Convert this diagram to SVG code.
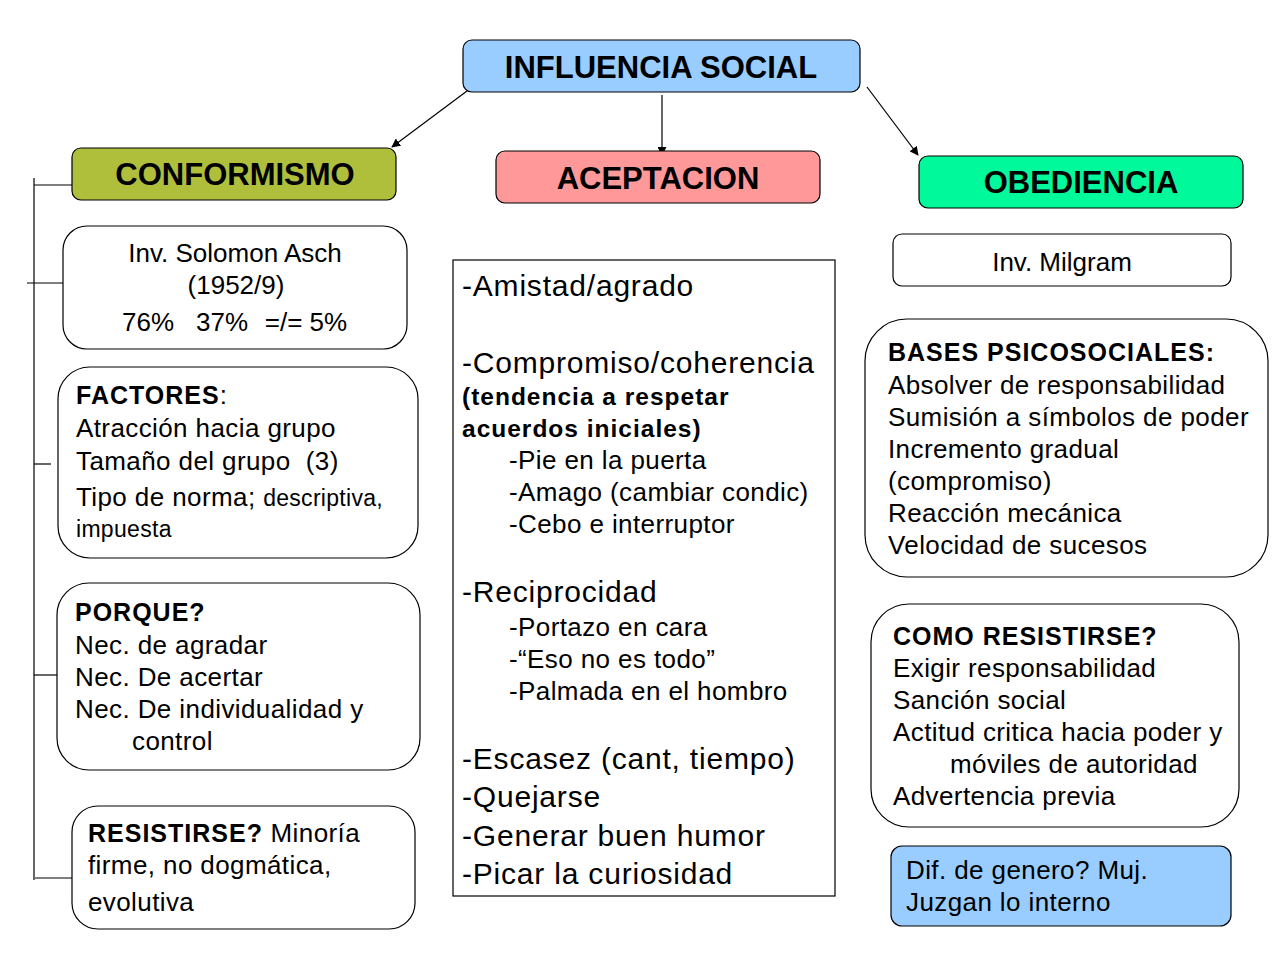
<svg xmlns="http://www.w3.org/2000/svg" width="1278" height="959" viewBox="0 0 1278 959">
<style>
text{font-family:"Liberation Sans",Arial,sans-serif;fill:#000}
.h{font-size:31px;font-weight:bold;text-anchor:middle}
.t{font-size:26px;letter-spacing:0.4px}
.tc{font-size:26px;text-anchor:middle}
.b{font-size:25px;font-weight:bold;letter-spacing:1px}
.m{font-size:30px;letter-spacing:0.8px}
.mb{font-size:24.5px;font-weight:bold;letter-spacing:1px}
.s{font-size:23px;letter-spacing:0.3px}
.box{fill:#fff;stroke:#000;stroke-width:1.2}
.con{stroke:#000;stroke-width:1.2;fill:none}
</style>
<defs>
<marker id="ar" viewBox="0 0 10 10" refX="9" refY="5" markerWidth="9" markerHeight="9" markerUnits="userSpaceOnUse" orient="auto">
<path d="M0,0 L10,5 L0,10 z" fill="#000"/>
</marker>
</defs>
<rect width="1278" height="959" fill="#fff"/>
<g id="connectors">
<line class="con" x1="471" y1="88" x2="392" y2="147" marker-end="url(#ar)"/>
<line class="con" x1="662" y1="95" x2="662" y2="155" marker-end="url(#ar)"/>
<line class="con" x1="867" y1="87" x2="918" y2="155" marker-end="url(#ar)"/>
<line class="con" x1="34" y1="178" x2="34" y2="880"/>
<line class="con" x1="34" y1="185" x2="72" y2="185"/>
<line class="con" x1="27" y1="283" x2="63" y2="283"/>
<line class="con" x1="34" y1="464" x2="51" y2="464"/>
<line class="con" x1="34" y1="675" x2="57" y2="675"/>
<line class="con" x1="35" y1="878" x2="75" y2="878"/>
</g>
<g id="influencia">
<rect x="463" y="40" width="397" height="52" rx="9" fill="#99CCFF" stroke="#000" stroke-width="1.2"/>
<text class="h" x="661" y="78">INFLUENCIA SOCIAL</text>
</g>
<g id="conformismo">
<rect x="72" y="148" width="324" height="52" rx="9" fill="#AFBF3C" stroke="#000" stroke-width="1.2"/>
<text class="h" x="235" y="185">CONFORMISMO</text>
</g>
<g id="aceptacion">
<rect x="496" y="151" width="324" height="52" rx="9" fill="#FF9999" stroke="#000" stroke-width="1.2"/>
<text class="h" x="658" y="189">ACEPTACION</text>
</g>
<g id="obediencia">
<rect x="919" y="156" width="324" height="52" rx="9" fill="#00F99A" stroke="#000" stroke-width="1.2"/>
<text class="h" x="1081" y="193">OBEDIENCIA</text>
</g>
<g id="asch">
<rect class="box" x="63" y="226" width="344" height="123" rx="24"/>
<text class="tc" x="235" y="262">Inv. Solomon Asch</text>
<text class="tc" x="236" y="294">(1952/9)</text>
<text class="tc" y="331"><tspan x="148">76%</tspan><tspan x="222">37%</tspan><tspan x="306">=/= 5%</tspan></text>
</g>
<g id="factores">
<rect class="box" x="58" y="367" width="360" height="191" rx="32"/>
<text x="76" y="404"><tspan class="b">FACTORES</tspan><tspan class="t">:</tspan></text>
<text class="t" x="76" y="437">Atracción hacia grupo</text>
<text class="t" x="76" y="470" xml:space="preserve">Tamaño del grupo  (3)</text>
<text x="76" y="506"><tspan class="t">Tipo de norma; </tspan><tspan class="s">descriptiva,</tspan></text>
<text class="s" x="76" y="537">impuesta</text>
</g>
<g id="porque">
<rect class="box" x="57" y="583" width="363" height="187" rx="32"/>
<text class="b" x="75" y="621">PORQUE?</text>
<text class="t" x="75" y="654">Nec. de agradar</text>
<text class="t" x="75" y="686">Nec. De acertar</text>
<text class="t" x="75" y="718">Nec. De individualidad y</text>
<text class="t" x="132" y="750">control</text>
</g>
<g id="resistirse">
<rect class="box" x="72" y="806" width="343" height="123" rx="26"/>
<text x="88" y="842"><tspan class="b">RESISTIRSE?</tspan><tspan class="t"> Minoría</tspan></text>
<text class="t" x="88" y="874">firme, no dogmática,</text>
<text class="t" x="88" y="911">evolutiva</text>
</g>
<g id="tecnicas">
<rect x="453" y="260" width="382" height="636" fill="#fff" stroke="#000" stroke-width="1.2"/>
<text class="m" x="462" y="296">-Amistad/agrado</text>
<text class="m" x="462" y="373">-Compromiso/coherencia</text>
<text class="mb" x="462" y="405">(tendencia a respetar</text>
<text class="mb" x="462" y="437">acuerdos iniciales)</text>
<text class="t" x="509" y="469">-Pie en la puerta</text>
<text class="t" x="509" y="501">-Amago (cambiar condic)</text>
<text class="t" x="509" y="533">-Cebo e interruptor</text>
<text class="m" x="462" y="602">-Reciprocidad</text>
<text class="t" x="509" y="636">-Portazo en cara</text>
<text class="t" x="509" y="668">-“Eso no es todo”</text>
<text class="t" x="509" y="700">-Palmada en el hombro</text>
<text class="m" x="462" y="769">-Escasez (cant, tiempo)</text>
<text class="m" x="462" y="807">-Quejarse</text>
<text class="m" x="462" y="846">-Generar buen humor</text>
<text class="m" x="462" y="884">-Picar la curiosidad</text>
</g>
<g id="milgram">
<rect class="box" x="893" y="234" width="338" height="52" rx="9"/>
<text class="tc" x="1062" y="271">Inv. Milgram</text>
</g>
<g id="bases">
<rect class="box" x="865" y="319" width="403" height="258" rx="42"/>
<text class="b" x="888" y="361">BASES PSICOSOCIALES:</text>
<text class="t" x="888" y="394">Absolver de responsabilidad</text>
<text class="t" x="888" y="426">Sumisión a símbolos de poder</text>
<text class="t" x="888" y="458">Incremento gradual</text>
<text class="t" x="888" y="490">(compromiso)</text>
<text class="t" x="888" y="522">Reacción mecánica</text>
<text class="t" x="888" y="554">Velocidad de sucesos</text>
</g>
<g id="como">
<rect class="box" x="871" y="604" width="368" height="223" rx="38"/>
<text class="b" x="893" y="645">COMO RESISTIRSE?</text>
<text class="t" x="893" y="677">Exigir responsabilidad</text>
<text class="t" x="893" y="709">Sanción social</text>
<text class="t" x="893" y="741">Actitud critica hacia poder y</text>
<text class="t" x="950" y="773">móviles de autoridad</text>
<text class="t" x="893" y="805">Advertencia previa</text>
</g>
<g id="genero">
<rect x="891" y="846" width="340" height="80" rx="11" fill="#99CCFF" stroke="#000" stroke-width="1.2"/>
<text class="t" x="906" y="879">Dif. de genero? Muj.</text>
<text class="t" x="906" y="911">Juzgan lo interno</text>
</g>
</svg>
